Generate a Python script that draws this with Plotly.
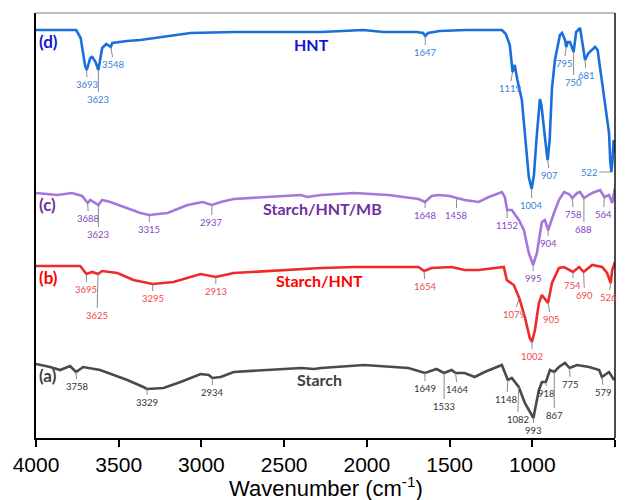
import numpy as np
import plotly.graph_objects as go

# ---------------- data (wavenumber cm-1, transmittance a.u.) ----------------
hnt_wn = [4000, 3757, 3730, 3715, 3703, 3693, 3672, 3660, 3640, 3623, 3612, 3600, 3575, 3548,
          3539, 3450, 3369, 3200, 3066, 2800, 2400, 2277, 2022, 1900, 1700, 1660, 1647, 1630,
          1560, 1400, 1184, 1160, 1136, 1124, 1119, 1106, 1090, 1063, 1045, 1021, 1004, 990,
          975, 960, 954, 945, 930, 915, 907, 895, 881, 863, 833, 820, 802, 795, 785, 772,
          750, 735, 711, 695, 681, 660, 620, 605, 578, 560, 536, 529, 522, 515, 508, 500]
hnt_t = [408, 408, 400, 383, 372, 368, 380, 381, 376, 368, 380, 390, 394, 391,
         395, 397, 398, 402, 405, 406, 406, 406, 408, 406, 406, 405, 402, 405,
         407, 408, 408, 404, 393, 371, 366, 373, 358, 338, 308, 261, 249, 263,
         298, 328, 339, 333, 308, 288, 278, 298, 350, 378, 403, 405, 398, 391, 396, 396,
         386, 406, 410, 393, 378, 385, 391, 388, 355, 331, 305, 278, 266, 278, 298, 285]

mb_wn = [4000, 3873, 3782, 3721, 3688, 3672, 3623, 3600, 3551, 3448, 3369, 3315, 3205, 3084,
         2993, 2937, 2883, 2805, 2598, 2398, 2360, 2277, 2076, 1870, 1688, 1648, 1609, 1567,
         1500, 1458, 1409, 1324, 1263, 1184, 1166, 1152, 1124, 1081, 1051, 1021, 995, 972,
         942, 924, 904, 869, 839, 808, 778, 758, 729, 711, 688, 638, 590, 564, 536, 517, 500]
mb_t = [245, 243, 245, 242, 235, 238, 233, 238, 236, 230, 225, 223, 225, 233,
        236, 233, 236, 239, 241, 243, 241, 243, 245, 243, 239, 236, 242, 243,
        242, 240, 238, 236, 241, 246, 241, 228, 228, 218, 208, 185, 173, 185,
        216, 218, 208, 225, 238, 246, 244, 240, 245, 246, 240, 245, 248, 241, 243, 235, 250]

sh_wn = [4000, 3733, 3695, 3660, 3625, 3600, 3508, 3411, 3295, 3169, 3005, 2913, 2805, 2598,
         2277, 2076, 1870, 1688, 1654, 1609, 1488, 1409, 1324, 1172, 1154, 1112, 1079, 1045,
         1015, 1002, 984, 960, 942, 905, 881, 839, 808, 754, 717, 690, 638, 578, 548, 526,
         517, 500]
sh_t = [172, 172, 164, 166, 164, 167, 165, 158, 154, 156, 164, 161, 165, 167,
        170, 171, 171, 171, 167, 170, 171, 168, 168, 171, 158, 153, 140, 121,
        100, 96, 108, 135, 143, 135, 155, 170, 171, 166, 171, 166, 173, 171, 165, 155,
        168, 176]

st_wn = [4000, 3915, 3854, 3794, 3758, 3715, 3612, 3448, 3351, 3329, 3229, 3126, 3005, 2956,
         2934, 2883, 2805, 2598, 2398, 2319, 2277, 2016, 1870, 1749, 1649, 1579, 1533, 1488,
         1464, 1409, 1348, 1288, 1184, 1166, 1148, 1124, 1090, 1082, 1045, 1010, 993, 984,
         960, 942, 918, 893, 867, 839, 802, 775, 729, 656, 596, 579, 536, 505]
st_t = [74, 71, 68, 72, 66, 71, 68, 58, 51, 49, 50, 56, 64, 63,
        60, 61, 66, 68, 70, 69, 70, 73, 71, 70, 65, 69, 65, 68,
        65, 65, 61, 66, 73, 66, 58, 60, 53, 51, 35, 24, 20, 28,
        48, 56, 56, 68, 66, 71, 75, 70, 73, 71, 68, 61, 66, 58]

# peak labels: wavenumbers
hnt_peaks = [3693, 3623, 3548, 1647, 1119, 1004, 907, 795, 750, 681, 522]
mb_peaks = [3688, 3623, 3315, 2937, 1648, 1458, 1152, 995, 904, 758, 688, 564]
sh_peaks = [3695, 3625, 3295, 2913, 1654, 1079, 1002, 905, 754, 690, 526]
st_peaks = [3758, 3329, 2934, 1649, 1533, 1464, 1148, 1082, 993, 918, 867, 775, 579]

# label offsets (pixels) for each peak
hnt_off = [(0, 14), (0, 29), (3, 17), (0, 16), (-3, 16), (0, 16), (2, 15), (-2, 16), (0, 30), (1, 15), (-22, 0)]
mb_off = [(1, 15), (0, 29), (0, 14), (0, 17), (0, 13), (0, 17), (0, 15), (0, 13), (0, 13), (1, 16), (0, 31), (-1, 17)]
sh_off = [(0, 15), (-1, 41), (0, 14), (0, 14), (1, 15), (-5, 16), (0, 14), (3, 16), (0, 13), (1, 23), (-2, 14)]
st_off = [(1, 14), (0, 13), (0, 14), (0, 15), (0, 33), (2, 16), (-1, 19), (-1, 32), (0, 12), (1, 11), (0, 43), (1, 16), (2, 15)]

series = [
    dict(name="Starch", wn=st_wn, t=st_t, peaks=st_peaks, off=st_off, color="#4a4a4a",
         lab="#333333", tag="(a)", tagcolor="#404040", title_wn=2289, title_dy=-11),
    dict(name="Starch/HNT", wn=sh_wn, t=sh_t, peaks=sh_peaks, off=sh_off, color="#ee2a2a",
         lab="#f04a4a", tag="(b)", tagcolor="#ff0000", title_wn=2289, title_dy=-12),
    dict(name="Starch/HNT/MB", wn=mb_wn, t=mb_t, peaks=mb_peaks, off=mb_off, color="#a577dd",
         lab="#8447bf", tag="(c)", tagcolor="#7030a0", title_wn=2271, title_dy=-14),
    dict(name="HNT", wn=hnt_wn, t=hnt_t, peaks=hnt_peaks, off=hnt_off, color="#1b6fdc",
         lab="#3a7fd6", tag="(d)", tagcolor="#1515d0", title_wn=2337, title_dy=-12),
]

fig = go.Figure()
annotations = []
for s in series:
    fig.add_trace(go.Scatter(x=s["wn"], y=s["t"], mode="lines", name=s["name"],
                             line=dict(color=s["color"], width=2.6), showlegend=False,
                             hoverinfo="skip"))
    xr = np.array(s["wn"][::-1], dtype=float)
    yr = np.array(s["t"][::-1], dtype=float)
    for p, (dx, dy) in zip(s["peaks"], s["off"]):
        yv = float(np.interp(p, xr, yr))
        annotations.append(dict(x=p, y=yv, xref="x", yref="y", text=str(p), showarrow=True,
                                arrowhead=0, arrowwidth=1, arrowcolor="#8c8c8c", standoff=0,
                                ax=dx, ay=dy, font=dict(family="Lato", size=9.5, color=s["lab"])))
    # tag at left
    annotations.append(dict(x=3993, y=s["t"][0], xref="x", yref="y", text="<b>%s</b>" % s["tag"],
                            showarrow=False, xanchor="left", yanchor="middle", yshift=-11,
                            font=dict(family="Lato", size=17, color=s["tagcolor"])))
    yt = float(np.interp(s["title_wn"], xr, yr))
    annotations.append(dict(x=s["title_wn"], y=yt, xref="x", yref="y", text="<b>%s</b>" % s["name"],
                            showarrow=False, xanchor="center", yanchor="middle", yshift=s["title_dy"],
                            font=dict(family="Lato", size=16, color=s["tagcolor"])))

# x-axis title as a paper-positioned annotation
annotations.append(dict(x=0.5, y=0, xref="paper", yref="paper", text="Wavenumber (cm<sup>-1</sup>)",
                        showarrow=False, xanchor="center", yanchor="middle", yshift=-49,
                        font=dict(family="Liberation Sans", size=22, color="black")))

# the page body adds an 8px margin; size the figure so the plot area lands where the reference's does
fig.update_layout(
    width=624, height=492,
    margin=dict(l=28, r=17, t=5, b=62),
    paper_bgcolor="white", plot_bgcolor="white",
    annotations=annotations,
    shapes=[
        dict(type="line", xref="paper", yref="paper", x0=0, x1=1, y0=1, y1=1,
             line=dict(color="#7f7f7f", width=1.2)),
        dict(type="line", xref="paper", yref="paper", x0=1, x1=1, y0=0, y1=1,
             line=dict(color="#111111", width=1.5)),
    ],
)
fig.update_xaxes(range=[4000, 500], tickvals=[4000, 3500, 3000, 2500, 2000, 1500, 1000, 500],
                 ticks="outside", ticklen=7, tickwidth=2, tickcolor="black", automargin=False,
                 showline=True, linecolor="black", linewidth=2, showgrid=False, zeroline=False,
                 tickfont=dict(family="Liberation Sans", size=21, color="black"))
fig.update_yaxes(range=[0, 425], showticklabels=False, ticks="", showgrid=False, zeroline=False,
                 showline=True, linecolor="black", linewidth=2, automargin=False)

fig.write_html("out.html")
